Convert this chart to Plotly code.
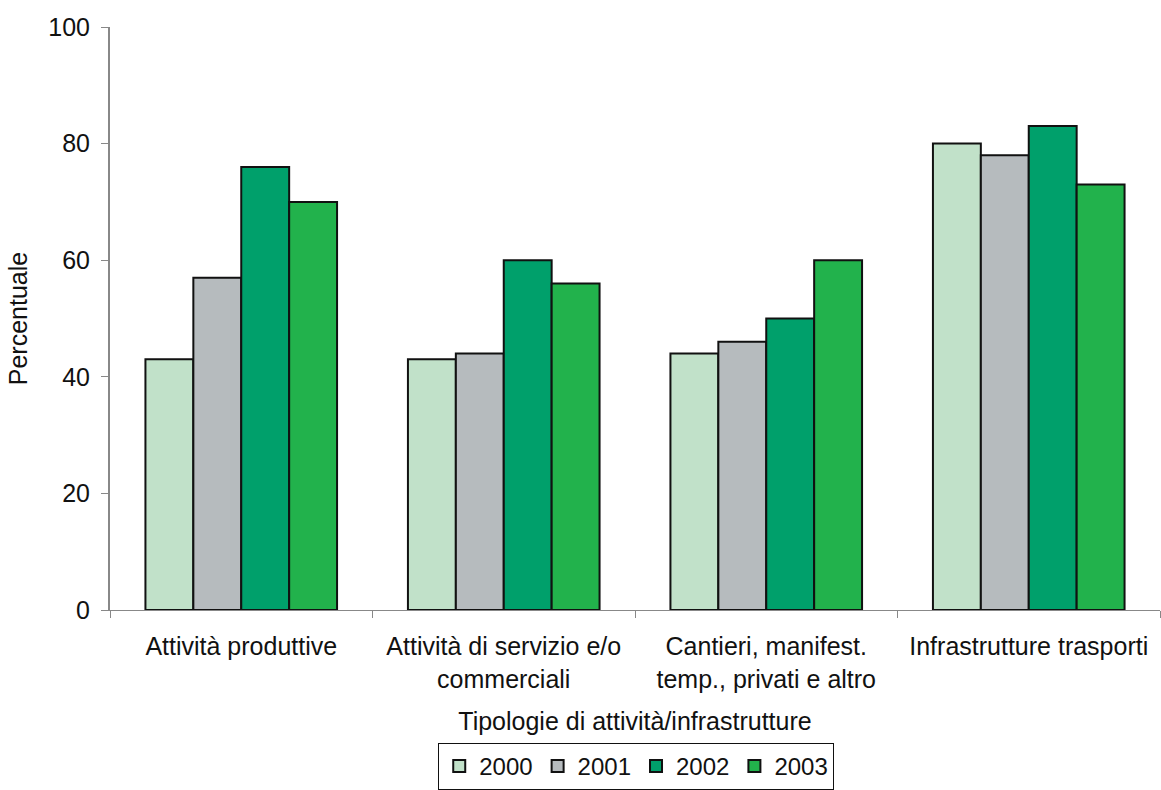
import plotly.graph_objects as go

categories = ["Attività produttive", "Attività di servizio e/o<br>commerciali",
              "Cantieri, manifest.<br>temp., privati e altro", "Infrastrutture trasporti"]
years = ["2000", "2001", "2002", "2003"]
v2000 = [43, 43, 44, 80]
v2001 = [57, 44, 46, 78]
v2002 = [76, 60, 50, 83]
v2003 = [70, 56, 60, 73]
colors = ["#C1E1C9", "#B6BBBE", "#00A06B", "#22B24C"]

fig = go.Figure()
for name, vals, c in zip(years, [v2000, v2001, v2002, v2003], colors):
    fig.add_trace(go.Bar(x=categories, y=vals, name=name, marker_color=c,
                         marker_line_color="#111111", marker_line_width=2))

FS = 25
font = dict(family="Liberation Sans, Arial, sans-serif", size=FS, color="#111111")
fig.update_layout(
    width=1161, height=790,
    margin=dict(l=110, r=1, t=27, b=180),
    plot_bgcolor="white", paper_bgcolor="white",
    font=font,
    barmode="group", bargap=0.27, bargroupgap=0,
    showlegend=True,
    legend=dict(orientation="h", x=0.548, xanchor="center", xref="container",
                y=0.0, yanchor="bottom", yref="container",
                bordercolor="#111111", borderwidth=1, font=dict(size=24),
                itemsizing="constant", tracegroupgap=0, itemwidth=30),
    xaxis=dict(showline=True, linecolor="#888888", linewidth=1, ticks="outside",
               tickson="boundaries", ticklen=7, tickcolor="#888888",
               tickfont=dict(size=FS), automargin=False, ticklabelstandoff=14,
               title=dict(text="Tipologie di attività/infrastrutture", standoff=20,
                          font=dict(size=FS)),
               showgrid=False),
    yaxis=dict(range=[0, 100], tickvals=[0, 20, 40, 60, 80, 100], showline=True,
               linecolor="#888888", linewidth=2, ticks="outside", ticklen=7,
               tickcolor="#888888", showgrid=False, zeroline=False,
               tickfont=dict(size=FS), automargin=False, ticklabelstandoff=6,
               title=dict(text="Percentuale", standoff=14, font=dict(size=FS))),
)
fig.write_html("out.html")
